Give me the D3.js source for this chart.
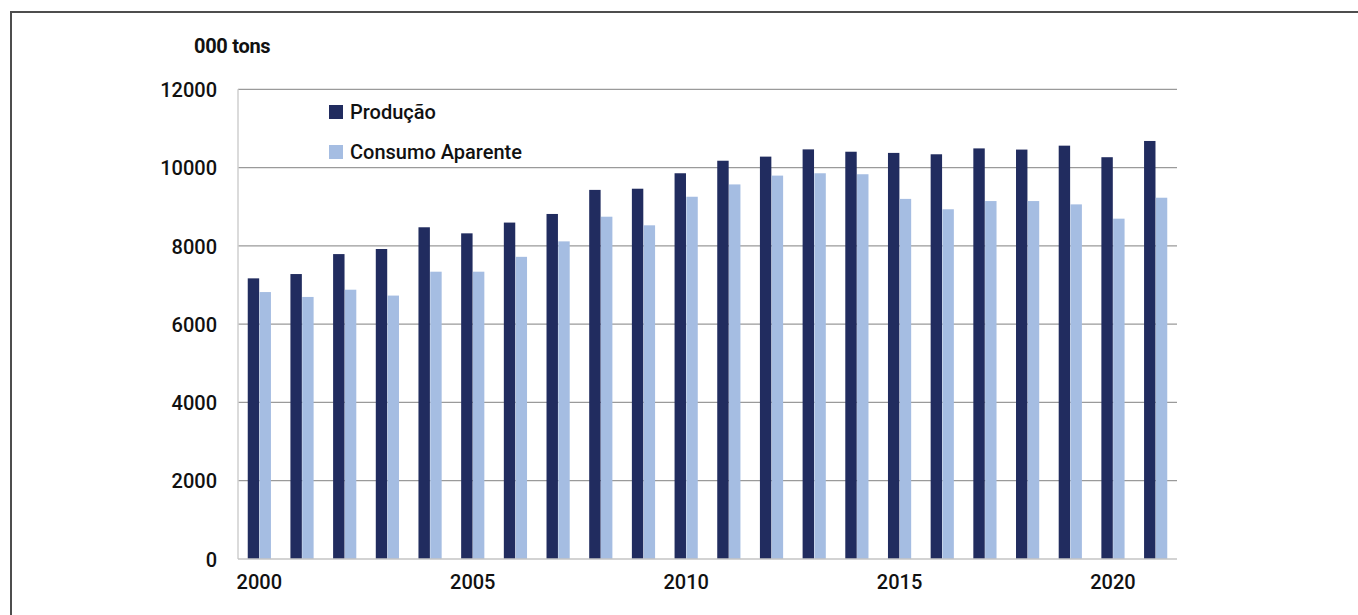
<!DOCTYPE html>
<html>
<head>
<meta charset="utf-8">
<script src="https://cdn.jsdelivr.net/npm/d3@7"></script>
<style>
  html, body { margin: 0; padding: 0; background: #ffffff; }
  svg { display: block; }
  text { font-family: Roboto, "Noto Sans", sans-serif; fill: #111; }
</style>
</head>
<body>
<svg id="chart" width="1358" height="615"></svg>
<script>
const years = [2000, 2001, 2002, 2003, 2004, 2005, 2006, 2007, 2008, 2009, 2010,
               2011, 2012, 2013, 2014, 2015, 2016, 2017, 2018, 2019, 2020, 2021];
const producao = [7170, 7280, 7790, 7920, 8475, 8320, 8595, 8815, 9430, 9460, 9855,
                  10175, 10280, 10465, 10405, 10375, 10340, 10490, 10460, 10560, 10265, 10680];
const consumo = [6820, 6695, 6880, 6730, 7340, 7340, 7720, 8115, 8745, 8525, 9255,
                 9570, 9795, 9855, 9830, 9200, 8935, 9145, 9145, 9060, 8695, 9230];
const seriesNames = ["Produção", "Consumo Aparente"];
const seriesColors = ["#212c5f", "#a5bde2"];
const yTicks = [0, 2000, 4000, 6000, 8000, 10000, 12000];
const xTickLabels = [2000, 2005, 2010, 2015, 2020];
const unitLabel = "000 tons";

const svg = d3.select("#chart");
const plot = { left: 238, right: 1177, top: 89.3, bottom: 559 };

// frame (left and top edges only visible)
svg.append("path")
  .attr("d", `M11,615 L11,12 L1358,12`)
  .attr("fill", "none").attr("stroke", "#4d4d4d").attr("stroke-width", 2);

const x0 = d3.scaleBand().domain(years).range([plot.left, plot.right])
  .paddingInner(0.44).paddingOuter(0.22);
const x1 = d3.scaleBand().domain(seriesNames).range([0, x0.bandwidth()]).padding(0.03);
const y = d3.scaleLinear().domain([0, 12000]).range([plot.bottom, plot.top]);

// gridlines
svg.append("g").selectAll("line").data(yTicks.filter(d => d > 0)).join("line")
  .attr("x1", plot.left).attr("x2", plot.right)
  .attr("y1", d => y(d)).attr("y2", d => y(d))
  .attr("stroke", "#9a9a9a").attr("stroke-width", 1.3);

// left axis line
svg.append("line").attr("x1", plot.left).attr("x2", plot.left)
  .attr("y1", plot.top).attr("y2", plot.bottom)
  .attr("stroke", "#cfcfcf").attr("stroke-width", 1.5);

// bars
const data = years.map((yr, i) => ({ year: yr, vals: [producao[i], consumo[i]] }));
const groups = svg.append("g").selectAll("g").data(data).join("g")
  .attr("transform", d => `translate(${x0(d.year)},0)`);
groups.selectAll("rect")
  .data(d => d.vals.map((v, k) => ({ name: seriesNames[k], v, k })))
  .join("rect")
  .attr("x", d => x1(d.name))
  .attr("width", x1.bandwidth())
  .attr("y", d => y(d.v))
  .attr("height", d => y(0) - y(d.v))
  .attr("fill", d => seriesColors[d.k]);

// baseline
svg.append("line").attr("x1", plot.left).attr("x2", plot.right)
  .attr("y1", y(0)).attr("y2", y(0))
  .attr("stroke", "#c4c4c4").attr("stroke-width", 1.5);

// y tick labels
const yAxis = d3.axisLeft(y).tickValues(yTicks).tickSize(0).tickPadding(0).tickFormat(d3.format("d"));
const gy = svg.append("g").attr("transform", `translate(217,0)`).call(yAxis);
gy.select(".domain").remove();
gy.selectAll("text").attr("font-size", 20).attr("fill", "#111").style("font-weight", 500)
  .attr("font-family", "Roboto, sans-serif").attr("dy", "0.36em");

// x tick labels
const xAxis = d3.axisBottom(x0).tickValues(xTickLabels).tickSize(0).tickPadding(0).tickFormat(d3.format("d"));
const gx = svg.append("g").attr("transform", `translate(0,575)`).call(xAxis);
gx.select(".domain").remove();
gx.selectAll("text").attr("font-size", 20).attr("fill", "#111").style("font-weight", 500)
  .attr("font-family", "Roboto, sans-serif").attr("dy", "0.71em").attr("y", 0);

// unit label
svg.append("text").attr("x", 194).attr("y", 53)
  .attr("font-size", 20).style("font-weight", 700).attr("letter-spacing", "-0.3").text(unitLabel);

// legend
const legend = svg.append("g");
const legendY = [112, 152];
seriesNames.forEach((name, k) => {
  legend.append("rect").attr("x", 329).attr("y", legendY[k] - 7).attr("width", 14).attr("height", 14)
    .attr("fill", seriesColors[k]);
  legend.append("text").attr("x", 350).attr("y", legendY[k]).attr("dy", "0.36em")
    .attr("font-size", 20).style("font-weight", 500).text(name);
});
</script>
</body>
</html>
